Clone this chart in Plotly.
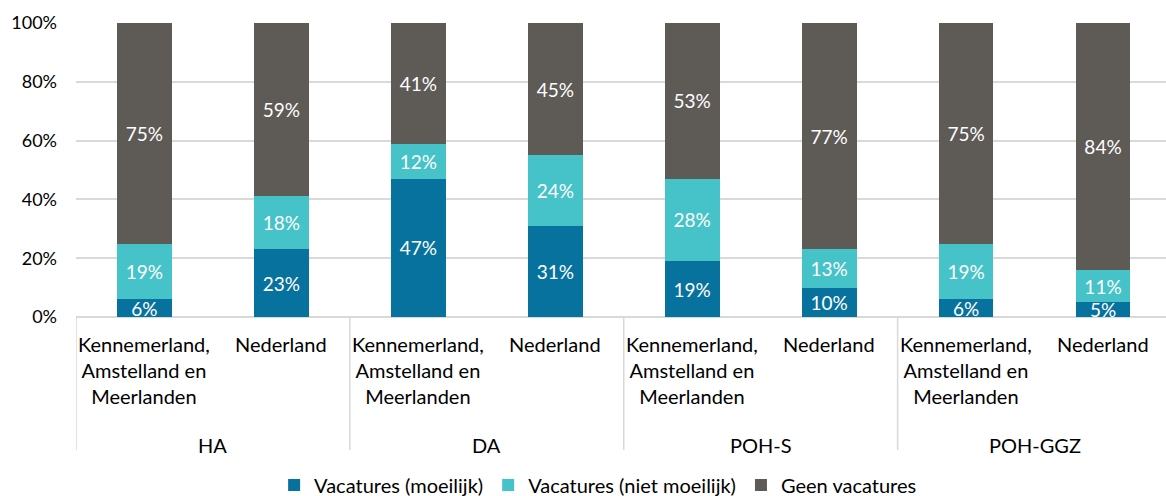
import plotly.graph_objects as go

groups = ["HA", "DA", "POH-S", "POH-GGZ"]
regions = ["Kennemerland,<br>Amstelland en<br>Meerlanden", "Nederland"]
series_names = ["Vacatures (moeilijk)", "Vacatures (niet moeilijk)", "Geen vacatures"]
moeilijk = [6, 23, 47, 31, 19, 10, 6, 5]
niet_moeilijk = [19, 18, 12, 24, 28, 13, 19, 11]
geen = [75, 59, 41, 45, 53, 77, 75, 84]
y_ticks = [0, 20, 40, 60, 80, 100]
y_tick_labels = ["0%", "20%", "40%", "60%", "80%", "100%"]

colors = ["#08729E", "#45C3C8", "#5E5A56"]
FONT = "Lato"
FS = 20
H = 294.0  # plot height px

x_pos = list(range(len(moeilijk)))
fig = go.Figure()
for name, vals, col in zip(series_names, [moeilijk, niet_moeilijk, geen], colors):
    fig.add_trace(go.Bar(
        x=x_pos, y=vals, name=name, marker=dict(color=col, line=dict(width=0)),
        width=0.4, text=[f"{v}%" for v in vals], textposition="inside",
        insidetextanchor="middle", textangle=0,
        textfont=dict(color="white", size=19, family=FONT),
    ))

# category labels
for i in x_pos:
    fig.add_annotation(x=i, y=-13 / H, xref="x", yref="paper", text=regions[i % 2],
                       showarrow=False, yanchor="top", xanchor="center", align="center",
                       font=dict(size=FS, family=FONT, color="#000"))
# group labels
for g, name in enumerate(groups):
    fig.add_annotation(x=2 * g + 0.5, y=-128 / H, xref="x", yref="paper", text=name,
                       showarrow=False, yanchor="middle", xanchor="center",
                       font=dict(size=FS, family=FONT, color="#000"))
# dividers
for g in range(len(groups)):
    fig.add_shape(type="line", xref="x", yref="paper", x0=2 * g - 0.5, x1=2 * g - 0.5,
                  y0=0, y1=-133 / H, line=dict(color="#D9D9D9", width=1.5))

fig.update_layout(
    width=1166, height=496,
    margin=dict(l=76, r=0, t=23, b=179, autoexpand=False),
    barmode="stack", bargap=0.6,
    plot_bgcolor="white", paper_bgcolor="white",
    font=dict(family=FONT, size=FS, color="#000"),
    uniformtext=dict(minsize=19, mode="show"),
    xaxis=dict(range=[-0.5, 7.46], showticklabels=False, showgrid=False, zeroline=False,
               showline=False, fixedrange=True, automargin=False),
    yaxis=dict(range=[0, 100], tickvals=y_ticks, ticktext=y_tick_labels, automargin=False,
               showgrid=True, gridcolor="#D9D9D9", gridwidth=1.5, zeroline=True,
               zerolinecolor="#D9D9D9", zerolinewidth=1.5, ticks="", ticklen=0,
               ticklabelstandoff=18,
               tickfont=dict(size=18, family=FONT, color="#000")),
    legend=dict(orientation="h", x=0.479, xanchor="center", y=-168 / H, yanchor="middle",
                font=dict(size=FS, family=FONT, color="#000"), traceorder="normal",
                itemwidth=30),
)
fig.write_html("out.html", config={"displayModeBar": False},
               post_script="document.body.style.margin='0';")
